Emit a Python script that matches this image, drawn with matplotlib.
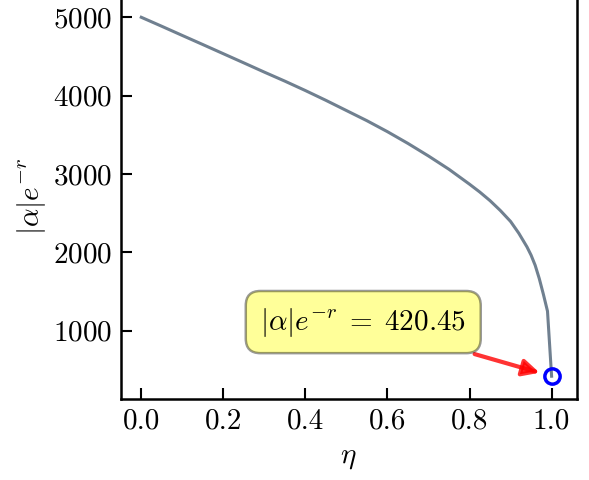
import matplotlib
matplotlib.use("Agg")
import matplotlib.pyplot as plt

plt.rcParams['font.family'] = 'serif'
plt.rcParams['font.serif'] = ['cmr10']
plt.rcParams['mathtext.fontset'] = 'cm'
plt.rcParams['axes.formatter.use_mathtext'] = True
plt.rcParams['font.size'] = 21

eta = [0.0, 0.05, 0.1, 0.15, 0.2, 0.25, 0.3, 0.35, 0.4, 0.45, 0.5, 0.55, 0.6, 0.65,
       0.7, 0.75, 0.8, 0.825, 0.85, 0.875, 0.9, 0.92, 0.94, 0.95, 0.96, 0.97, 0.98,
       0.99, 1.0]
value = [5000, 4885, 4768, 4652, 4535, 4418, 4300, 4185, 4065, 3940, 3810, 3680,
         3540, 3390, 3230, 3060, 2870, 2770, 2660, 2535, 2395, 2245, 2070, 1965,
         1835, 1665, 1465, 1250, 420.45]

eta_end = eta[-1]
value_end = value[-1]

fig = plt.figure(figsize=(5.89, 4.8), dpi=100)
ax = fig.add_axes([0.205, 0.168, 0.774, 0.845])

ax.plot(eta, value, color='slategray', linewidth=2.2)
ax.plot([eta_end], [value_end], 'o', markerfacecolor='none', markeredgecolor='blue',
        markersize=11, markeredgewidth=2.5)

ax.annotate(r'$|\alpha|e^{-r}\;=\;%.2f$' % value_end,
            xy=(eta_end, value_end), xytext=(0.541, 1111),
            ha='center', va='center', fontsize=21,
            bbox=dict(boxstyle='round,pad=0.5', fc='yellow', alpha=0.4, lw=1.8),
            arrowprops=dict(arrowstyle='-|>', color='red', alpha=0.8, lw=3,
                            mutation_scale=25, shrinkB=9))

ax.set_xlim(-0.05, 1.061)
ax.set_ylim(125, 5300)
ax.set_xticks([0.0, 0.2, 0.4, 0.6, 0.8, 1.0])
ax.set_yticks([1000, 2000, 3000, 4000, 5000])
ax.set_xticklabels(['0.0', '0.2', '0.4', '0.6', '0.8', '1.0'])
ax.tick_params(direction='in', length=8, width=1.5, pad=6)
for s in ax.spines.values():
    s.set_linewidth(1.8)

ax.set_xlabel(r'$\eta$', labelpad=8)
ax.set_ylabel(r'$|\alpha|e^{-r}$', labelpad=4)

fig.savefig('out.png', dpi=100)
